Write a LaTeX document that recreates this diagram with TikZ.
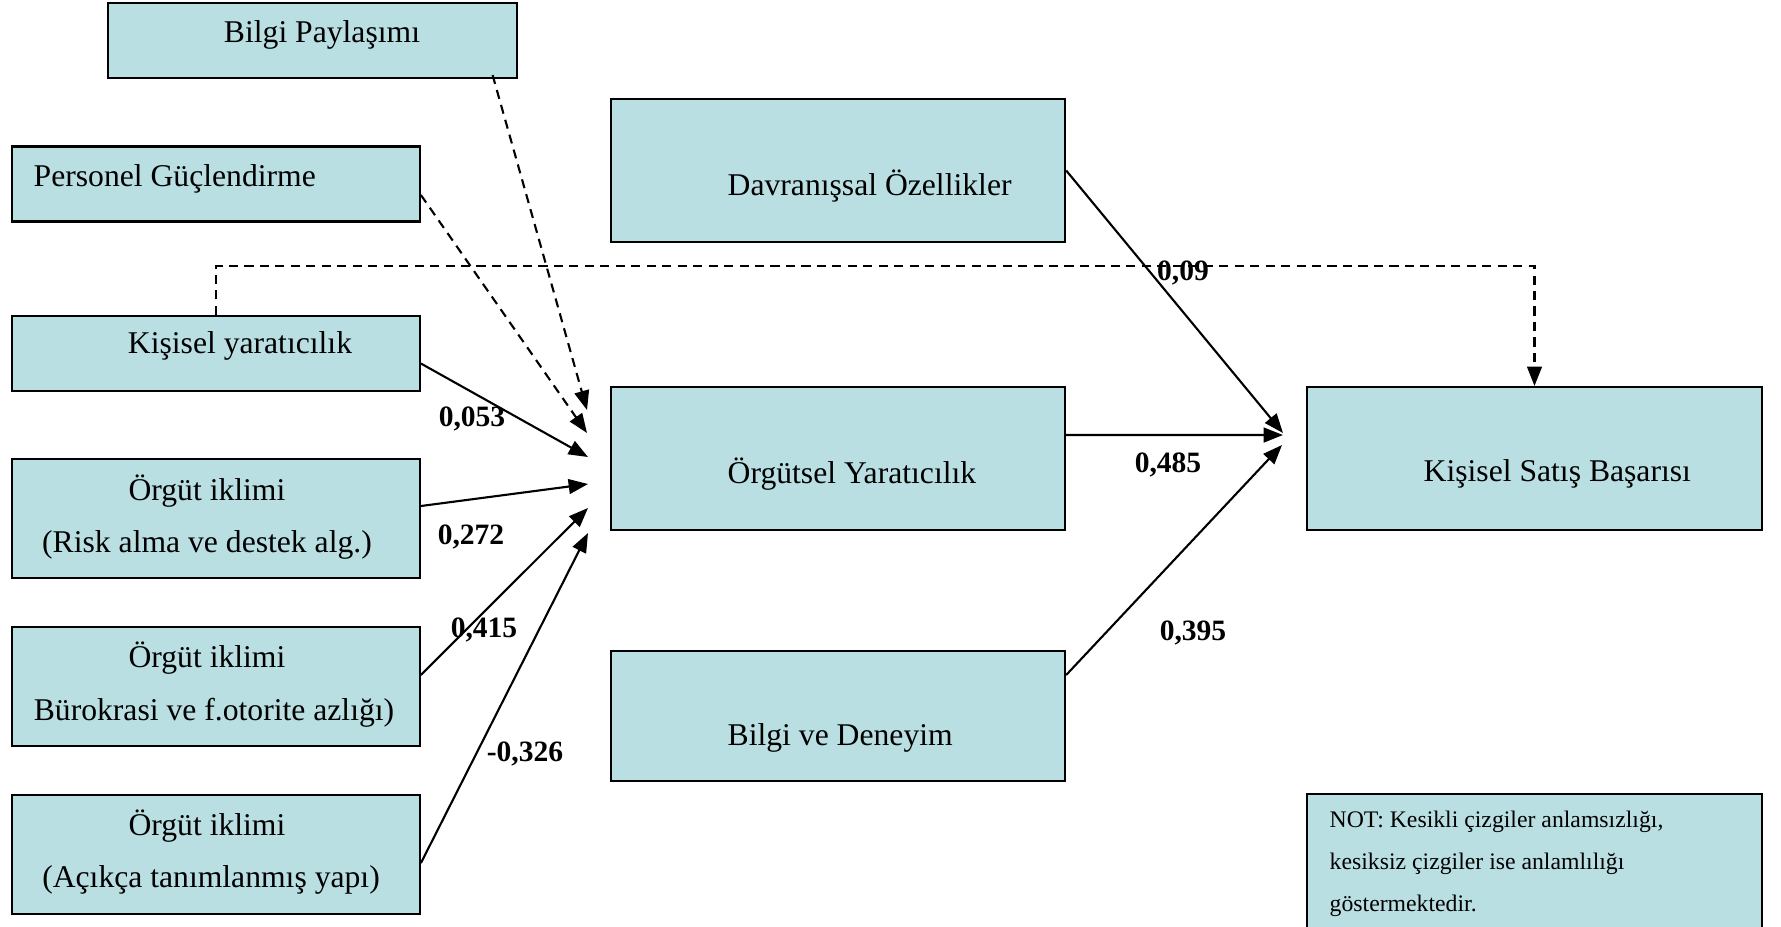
\documentclass[tikz,border=0pt]{standalone}
\usepackage{fontspec}
\setmainfont{Liberation Serif}
\usetikzlibrary{arrows.meta}
\definecolor{boxfill}{RGB}{185,223,227}

\begin{document}
\begin{tikzpicture}[x=0.01cm,y=-0.01cm,
  box/.style={draw=black, fill=boxfill, line width=0.6pt, inner sep=0pt, rectangle},
  txt/.style={font=\fontsize{9}{10.8}\selectfont, inner sep=0pt},
  coef/.style={font=\fontsize{8.4}{10}\selectfont\bfseries, inner sep=0pt},
  note/.style={font=\fontsize{6.75}{11.9}\selectfont, inner sep=0pt, align=left},
  link/.style={line width=0.6pt, -{Triangle[length=5.5pt,width=4.2pt]}},
  weak/.style={link, dash pattern=on 2.6pt off 1.8pt}]

\useasboundingbox (0,0) rectangle (1781,926);
\clip (0,0) rectangle (1781,926);

% predictor boxes on the left
\node[box, minimum width=4.09cm,  minimum height=0.75cm] (bp)  at (312.5,40.5)  {};
\node[box, minimum width=4.075cm, minimum height=0.75cm] (pg)  at (216,184)     {};
\node[box, minimum width=4.075cm, minimum height=0.75cm] (ky)  at (216,353.5)   {};
\node[box, minimum width=4.075cm, minimum height=1.19cm] (oi1) at (216,518.5)   {};
\node[box, minimum width=4.075cm, minimum height=1.19cm] (oi2) at (216,686.5)   {};
\node[box, minimum width=4.075cm, minimum height=1.19cm] (oi3) at (216,854.5)   {};

% middle column
\node[box, minimum width=4.54cm, minimum height=1.43cm] (dv) at (838,170.5) {};
\node[box, minimum width=4.54cm, minimum height=1.43cm] (oy) at (838,458.5) {};
\node[box, minimum width=4.54cm, minimum height=1.30cm] (bd) at (838,716)   {};

% outcome and note
\node[box, minimum width=4.55cm, minimum height=1.43cm] (ks) at (1534.5,458.5) {};
\node[box, minimum width=4.55cm, minimum height=1.40cm] (nt) at (1534.5,864)   {};

% box texts
\node[txt] (bpt) at (322,35) {Bilgi Paylaşımı};
\node[txt, anchor=west] (pgt) at (33,179) {Personel Güçlendirme};
\node[txt] (kyt) at (240,346) {Kişisel yaratıcılık};
\node[txt] (oi1a) at (207,491) {Örgüt iklimi};
\node[txt] (oi1b) at (207,545) {(Risk alma ve destek alg.)};
\node[txt] (oi2a) at (207,658) {Örgüt iklimi};
\node[txt] (oi2b) at (214,713) {Bürokrasi ve f.otorite azlığı)};
\node[txt] (oi3a) at (207,826) {Örgüt iklimi};
\node[txt] (oi3b) at (211,880) {(Açıkça tanımlanmış yapı)};
\node[txt, anchor=west] (dvt) at (727,186) {Davranışsal Özellikler};
\node[txt, anchor=west] (oyt) at (727,474) {Örgütsel Yaratıcılık};
\node[txt, anchor=west] (bdt) at (727,738) {Bilgi ve Deneyim};
\node[txt, anchor=west] (kst) at (1423,474) {Kişisel Satış Başarısı};
\node[note, anchor=west] (ntt) at (1329,864) {NOT: Kesikli çizgiler anlamsızlığı,\\kesiksiz çizgiler ise anlamlılığı\\göstermektedir.};

% arrow ends in front of the mediator and the outcome
\coordinate (e1) at (587,410);
\coordinate (e2) at (587,433);
\coordinate (e3) at (588,457);
\coordinate (e4) at (588,484);
\coordinate (e5) at (588,508);
\coordinate (e6) at (588,533);
\coordinate (f1) at (1283,433);
\coordinate (f2) at (1283,435);
\coordinate (f3) at (1282,445);

% paths into Örgütsel Yaratıcılık
\draw[weak] ([xshift=1.8cm,yshift=0.04cm]bp.south) -- (e1);
\draw[weak] ([yshift=-0.11cm]pg.east) -- (e2);
\draw[link] ([yshift=-0.1cm]ky.east) -- (e3);
\draw[link] ([yshift=0.125cm]oi1.east) -- (e4);
\draw[link] ([yshift=0.115cm]oi2.east) -- (e5);
\draw[link] ([yshift=-0.085cm]oi3.east) -- (e6);

% paths into Kişisel Satış Başarısı
\draw[link] (dv.east) -- (f1);
\draw[link] ([yshift=0.235cm]oy.east) -- (f2);
\draw[link] ([yshift=0.41cm]bd.east) -- (f3);
\draw[weak] (ky.north) -- ++(0,-49) -| (ks.north);

% path coefficients
\node[coef] (c1) at (472,419) {0,053};
\node[coef] (c2) at (471,537) {0,272};
\node[coef] (c3) at (484,630) {0,415};
\node[coef] (c4) at (525,754) {-0,326};
\node[coef] (c5) at (1183,273) {0,09};
\node[coef] (c6) at (1168,465) {0,485};
\node[coef] (c7) at (1193,633) {0,395};

\end{tikzpicture}
\end{document}
